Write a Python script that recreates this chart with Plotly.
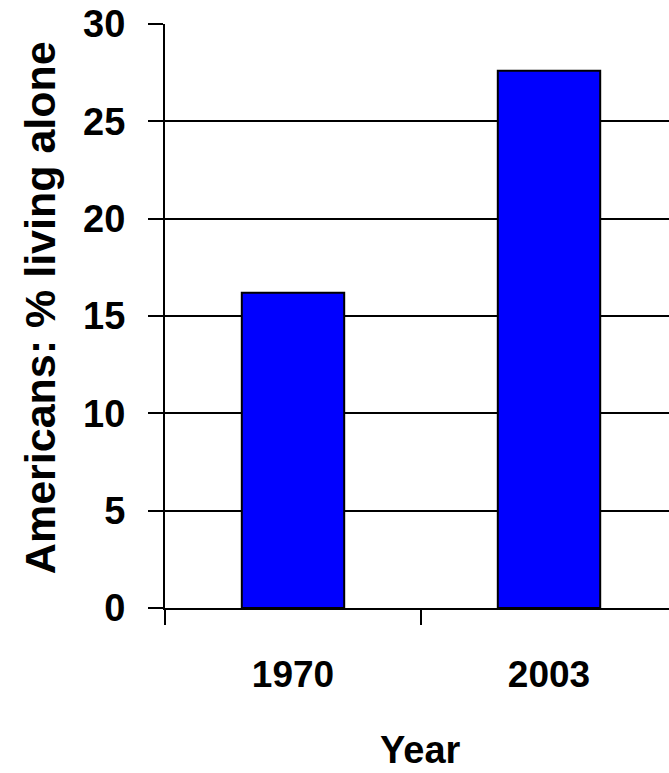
import plotly.graph_objects as go

years = ["1970", "2003"]
pct_living_alone = [16.2, 27.6]
y_ticks = [0, 5, 10, 15, 20, 25, 30]

W, H = 669, 773
left, right = 165, 669
top, bottom = 24, 773 - 607.7

fig = go.Figure()
fig.add_trace(go.Bar(
    x=years, y=pct_living_alone, width=0.4,
    marker=dict(color="#0000FF", line=dict(color="black", width=2)),
))

cat_px = 256.0
x_hi = (right - left) / cat_px - 0.5

fig.update_layout(
    width=W, height=H,
    margin=dict(l=left, r=W - right, t=top, b=bottom, pad=0),
    plot_bgcolor="white", paper_bgcolor="white",
    font=dict(family="Liberation Sans, Arial, sans-serif", color="black", size=38, weight="bold"),
    showlegend=False,
    bargap=0.6,
    xaxis=dict(
        type="category", range=[-0.5, x_hi],
        showline=True, linecolor="black", linewidth=2,
        ticks="outside", tickson="boundaries", ticklen=15, tickwidth=2, tickcolor="black",
        showgrid=False, zeroline=False,
        tickfont=dict(size=37, weight="bold"),
        ticklabelstandoff=33,
    ),
    yaxis=dict(
        range=[0, 30], tickvals=y_ticks, ticktext=[str(v) for v in y_ticks],
        showline=True, linecolor="black", linewidth=2,
        ticks="outside", ticklen=15, tickwidth=2, tickcolor="black",
        showgrid=True, gridcolor="black", gridwidth=2, zeroline=False,
        tickfont=dict(size=38, weight="bold"),
        ticklabelstandoff=15,
    ),
    annotations=[
        dict(text="Americans: % living alone", xref="paper", yref="paper",
             x=(40 - left) / (right - left), y=1 - (308 - top) / (H - top - bottom),
             xanchor="center", yanchor="middle", textangle=-90, showarrow=False,
             font=dict(size=43, weight="bold")),
        dict(text="Year", xref="paper", yref="paper",
             x=(420 - left) / (right - left), y=-(750 - (H - bottom)) / (H - top - bottom),
             xanchor="center", yanchor="middle", showarrow=False,
             font=dict(size=38, weight="bold")),
    ],
)

fig.write_html("out.html", config={"displayModeBar": False},
               post_script="document.body.style.margin='0';")
